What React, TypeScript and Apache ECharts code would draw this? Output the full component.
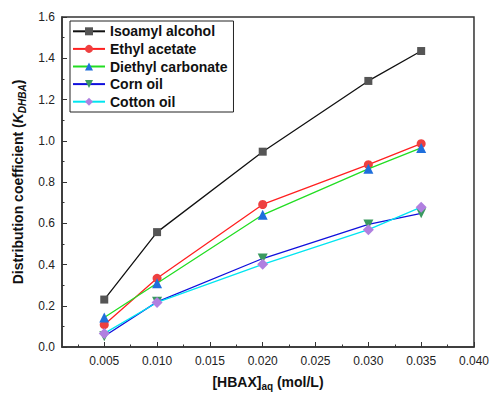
import React, { useEffect, useRef } from "react";
import * as echarts from "echarts";

const seriesNames = ["Isoamyl alcohol", "Ethyl acetate", "Diethyl carbonate", "Corn oil", "Cotton oil"];
const xValues = [0.005, 0.01, 0.02, 0.03, 0.035];
const isoamyl = [0.23, 0.557, 0.947, 1.29, 1.435];
const ethyl = [0.108, 0.333, 0.691, 0.884, 0.986];
const diethyl = [0.143, 0.309, 0.641, 0.864, 0.965];
const corn = [0.052, 0.219, 0.429, 0.594, 0.648];
const cotton = [0.066, 0.216, 0.401, 0.569, 0.678];
const xTickLabels = [0.005, 0.01, 0.015, 0.02, 0.025, 0.03, 0.035, 0.04];
const xMinorTicks = [0.0025, 0.0075, 0.0125, 0.0175, 0.0225, 0.0275, 0.0325, 0.0375];

const lineColors = ["#111111", "#ff2020", "#22dd22", "#1010dd", "#00e5f0"];
const markerColors = ["#555555", "#ee4040", "#1f6fdc", "#3a9a60", "#b080e0"];
const symbols = ["rect", "circle", "triangle", "triangle", "diamond"];
const symbolRotates = [0, 0, 0, 180, 0];
const symbolSizes = [8, 9, 10, 10, 11];

export default function App() {
  const ref = useRef<HTMLDivElement>(null);
  useEffect(() => {
    document.body.style.margin = "0";
    const chart = echarts.init(ref.current!, null, { renderer: "svg" });
    const all = [isoamyl, ethyl, diethyl, corn, cotton];
    const font = "'Liberation Sans', Arial, sans-serif";
    chart.setOption({
      animation: false,
      textStyle: { fontFamily: font },
      grid: {
        left: 62, right: 18, top: 17, bottom: 48,
        show: true, borderColor: "#333", borderWidth: 1.5, backgroundColor: "transparent",
      },
      legend: {
        orient: "vertical",
        left: 70, top: 21,
        borderColor: "#222", borderWidth: 1,
        padding: [2, 6, 2, 2],
        itemWidth: 32, itemHeight: 10, itemGap: 1,
        textStyle: { fontFamily: font, fontWeight: "bold", fontSize: 14, color: "#111", lineHeight: 16.6 },
        data: seriesNames,
      },
      xAxis: [
        {
          type: "value", min: 0.001, max: 0.04,
          axisLine: { show: true, lineStyle: { color: "#333", width: 1.5 } },
          axisTick: { show: true, inside: true, length: 5, customValues: xTickLabels, lineStyle: { color: "#333" } },
          axisLabel: {
            customValues: xTickLabels, color: "#222", fontSize: 12, margin: 8,
            formatter: (v: number) => v.toFixed(3),
          },
          splitLine: { show: false },
          name: "{b|[HBAX]}{s|aq}{b| (mol/L)}",
          nameLocation: "middle", nameGap: 26,
          nameTextStyle: {
            rich: {
              b: { fontFamily: font, fontWeight: "bold", fontSize: 14, color: "#111", lineHeight: 18 },
              s: { fontFamily: font, fontWeight: "bold", fontSize: 10, color: "#111", lineHeight: 10, verticalAlign: "bottom" },
            },
          },
        },
        {
          type: "value", min: 0.001, max: 0.04, position: "bottom",
          axisLine: { show: false },
          axisTick: { show: true, inside: true, length: 2.5, customValues: xMinorTicks, lineStyle: { color: "#333" } },
          axisLabel: { show: false },
          splitLine: { show: false },
        },
      ],
      yAxis: {
        type: "value", min: 0, max: 1.6, interval: 0.2,
        axisLine: { show: true, lineStyle: { color: "#333", width: 1.5 } },
        axisTick: { show: true, inside: true, length: 5, lineStyle: { color: "#333" } },
        minorTick: { show: true, splitNumber: 2, length: 2.5, lineStyle: { color: "#333" } },
        axisLabel: { color: "#222", fontSize: 12, margin: 7, formatter: (v: number) => v.toFixed(1) },
        splitLine: { show: false },
        name: "{b|Distribution coefficient (}{i|K}{s|DHBA}{b|)}",
        nameLocation: "middle", nameGap: 29, nameRotate: 90,
        nameTextStyle: {
          rich: {
            b: { fontFamily: font, fontWeight: "bold", fontSize: 14, color: "#111", lineHeight: 18 },
            i: { fontFamily: font, fontWeight: "bold", fontStyle: "italic", fontSize: 14, color: "#111", lineHeight: 18 },
            s: { fontFamily: font, fontWeight: "bold", fontStyle: "italic", fontSize: 10, color: "#111", lineHeight: 10, verticalAlign: "bottom" },
          },
        },
      },
      series: seriesNames.map((name, i) => ({
        name,
        type: "line",
        xAxisIndex: 0,
        data: xValues.map((x, j) => [x, all[i][j]]),
        symbol: symbols[i],
        symbolRotate: symbolRotates[i],
        symbolSize: symbolSizes[i],
        lineStyle: { color: lineColors[i], width: 1.3 },
        itemStyle: { color: markerColors[i] },
        color: markerColors[i],
        z: 2 + i,
      })),
    });
    return () => chart.dispose();
  }, []);
  return <div ref={ref} style={{ width: 492, height: 396 }} />;
}
